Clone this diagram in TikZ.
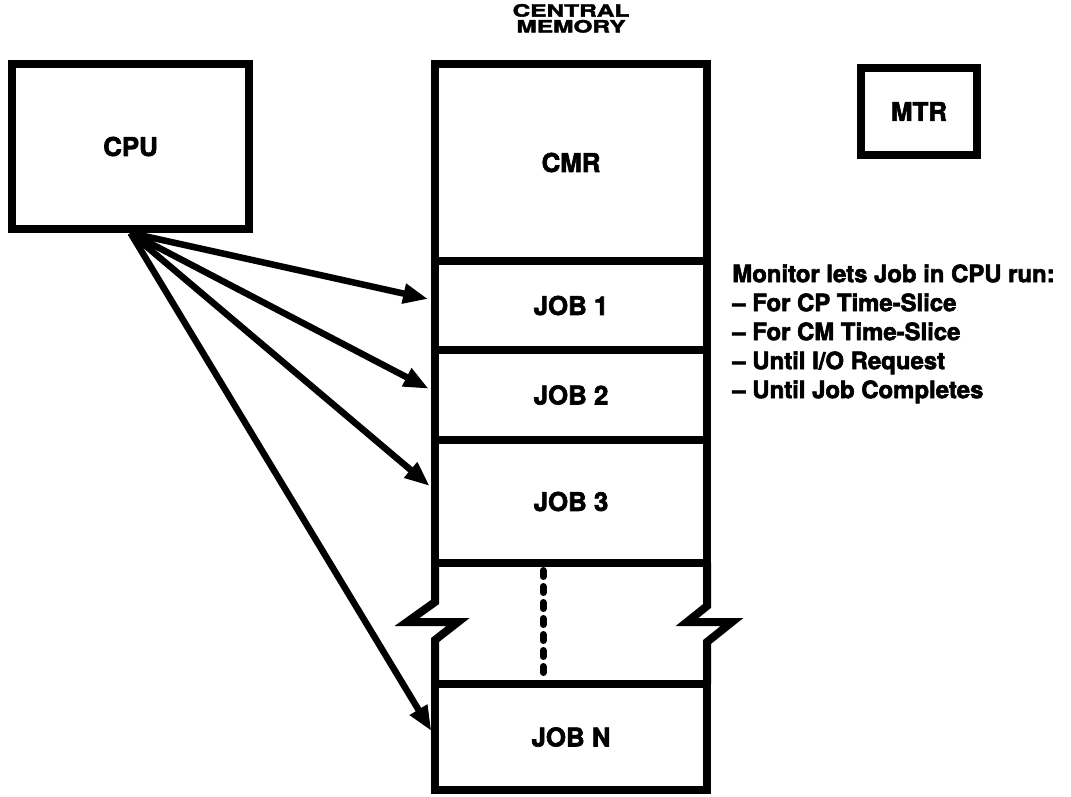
\documentclass[tikz,border=0pt]{standalone}
\usepackage{fontspec}
\setmainfont{TeX Gyre Heros}[BoldFeatures={FakeBold=2.5}]
\newfontfamily\stretchfont{TeX Gyre Heros}[FakeStretch=1.45,BoldFeatures={FakeBold=2.5}]
\usetikzlibrary{arrows.meta,positioning}

\begin{document}
\begin{tikzpicture}[
      >={Triangle[length=0.5cm,width=0.38cm]},
      unitbox/.style={draw,line width=0.16cm,align=center,
                   font=\bfseries\fontsize{14.7}{17}\selectfont},
      memslot/.style={draw,line width=0.16cm,minimum width=5.44cm,outer sep=0pt,
                   inner sep=0pt,font=\bfseries\fontsize{14.7}{17}\selectfont},
      titletext/.style={inner sep=0pt,font=\stretchfont\bfseries\fontsize{9.6}{10}\selectfont},
      arrow/.style={->,line width=0.13cm,shorten >=0.14cm}
    ]
    \useasboundingbox (0,0) rectangle (21.42,-15.92);
    \node[unitbox,minimum width=4.74cm,minimum height=3.3cm] (cpu) at (2.61,-2.93) {CPU};
    \node[unitbox,minimum width=2.32cm,minimum height=1.74cm] (mtr) at (18.38,-2.23) {MTR};
    \node[memslot,minimum height=3.94cm] (cmr) at (11.42,-3.25) {CMR};
    \node[memslot,minimum height=1.78cm,below=0cm of cmr] (job1) {JOB 1};
    \node[memslot,minimum height=1.80cm,below=0cm of job1] (job2) {JOB 2};
    \node[memslot,minimum height=2.46cm,below=0cm of job2] (job3) {JOB 3};
    \node[memslot,draw=none,minimum height=2.42cm,below=0cm of job3] (gap) {};
    \node[memslot,minimum height=2.12cm,below=0cm of gap] (jobn) {JOB N};
    \node[titletext,above=0.62cm of cmr] (memtitle) {MEMORY};
    \node[titletext,above=0.05cm of memtitle] (centraltitle) {CENTRAL};
    \node[inner sep=0pt,align=left,right=0.5cm of job1.north east,anchor=north west,
      yshift=-0.06cm,font=\bfseries\fontsize{13.6}{16.5}\selectfont] (note)
      {Monitor lets Job in CPU run:\\
       -- For CP Time-Slice\\
       -- For CM Time-Slice\\
       -- Until I/O Request\\
       -- Until Job Completes};
    \draw[line width=0.16cm] (gap.north west) -- ++(0,-0.78) -- ++(-0.56,-0.40)
      -- ++(1.02,0) -- ++(-0.46,-0.36) -- (gap.south west);
    \draw[line width=0.16cm] (gap.north east) -- ++(0,-0.86) -- ++(-0.40,-0.32)
      -- ++(0.90,0) -- ++(-0.50,-0.40) -- (gap.south east);
    \draw[line width=0.14cm,line cap=round,dash pattern=on 0.12cm off 0.2cm]
      ([xshift=-0.56cm,yshift=-0.15cm]gap.north) -- ([xshift=-0.56cm,yshift=0.12cm]gap.south);
    \draw[arrow] (cpu.south) -- ([yshift=0.1cm]job1.west);
    \draw[arrow] (cpu.south) -- ([yshift=0.06cm]job2.west);
    \draw[arrow] (cpu.south) -- ([yshift=0.22cm]job3.west);
    \draw[arrow] (cpu.south) -- (jobn.west);
  \end{tikzpicture}
\end{document}
